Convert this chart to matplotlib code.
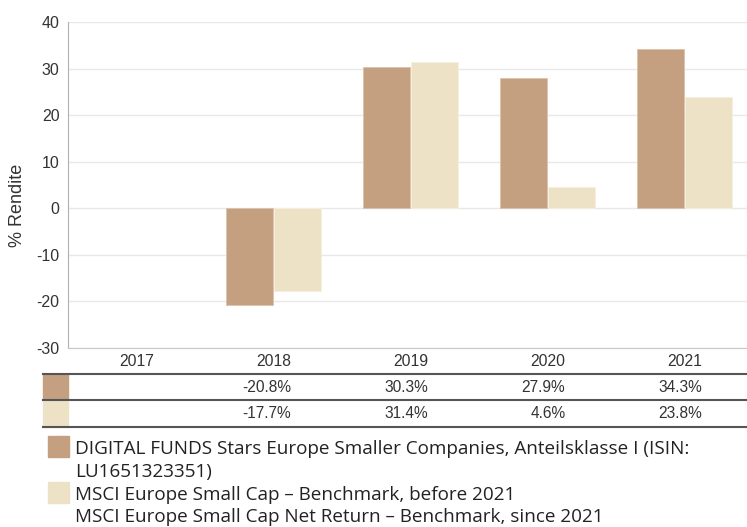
import matplotlib.pyplot as plt
from matplotlib.lines import Line2D
from matplotlib.patches import Rectangle
import matplotlib.transforms as mtransforms
import numpy as np

# ----- Data -----
years = ["2017", "2018", "2019", "2020", "2021"]
fund = [np.nan, -20.8, 30.3, 27.9, 34.3]
bench = [np.nan, -17.7, 31.4, 4.6, 23.8]
fund_lbl = ["", "-20.8%", "30.3%", "27.9%", "34.3%"]
bench_lbl = ["", "-17.7%", "31.4%", "4.6%", "23.8%"]
legend_fund = ["DIGITAL FUNDS Stars Europe Smaller Companies, Anteilsklasse I (ISIN:",
               "LU1651323351)"]
legend_bench = ["MSCI Europe Small Cap \u2013 Benchmark, before 2021",
                "MSCI Europe Small Cap Net Return \u2013 Benchmark, since 2021"]

c_fund = "#C4A080"
c_bench = "#EEE2C6"
txt_c = "#333333"

W, H = 747, 527
plt.rcParams['font.family'] = ['Liberation Sans', 'DejaVu Sans']
plt.rcParams['axes.unicode_minus'] = False
fig = plt.figure(figsize=(W / 100, H / 100), dpi=100)

# axes in pixel layout
left, right, top, bottom = 68, 753, 22, 348
ax = fig.add_axes([left / W, 1 - bottom / H, (right - left) / W, (bottom - top) / H])

x = np.arange(len(years))
bw = 0.343
ax.bar(x - bw / 2 - 0.005, fund, width=bw, color=c_fund, edgecolor='#dcc3ad',
       linewidth=0.6, zorder=3)
ax.bar(x + bw / 2 + 0.005, bench, width=bw, color=c_bench, edgecolor='#f6efe0',
       linewidth=0.6, zorder=3)

ax.set_xlim(-0.5, 4.5)
ax.set_ylim(-30, 40)
ax.set_yticks(np.arange(-30, 41, 10))
ax.set_xticks([])
ax.grid(axis='y', color='#e8e8e8', linewidth=1, zorder=0)
for s in ['top', 'right']:
    ax.spines[s].set_visible(False)
ax.spines['left'].set_color('#b0b0b0')
ax.spines['bottom'].set_color('#c8c8c8')
ax.tick_params(axis='y', length=0, pad=6, labelsize=11.5, labelcolor=txt_c)

def fy(py):
    return 1 - py / H

fig.text(18 / W, fy(205), "% Rendite", rotation=90, ha='center', va='center',
         fontsize=13, color=txt_c)

# ----- Table below the chart -----
trans = mtransforms.blended_transform_factory(ax.transData, fig.transFigure)

for i, y in enumerate(years):
    fig.text(x[i], fy(362), y, transform=trans, ha='center', va='center',
             fontsize=11.3, color=txt_c)
    fig.text(x[i] + 0.13, fy(387), fund_lbl[i], transform=trans, ha='right',
             va='center', fontsize=11.2, color=txt_c)
    fig.text(x[i] + 0.13, fy(413), bench_lbl[i], transform=trans, ha='right',
             va='center', fontsize=11.2, color=txt_c)

fig.patches.append(Rectangle((43 / W, fy(400)), 25 / W, 26 / H, transform=fig.transFigure,
                             color=c_fund, zorder=1))
fig.patches.append(Rectangle((43 / W, fy(427)), 25 / W, 26 / H, transform=fig.transFigure,
                             color=c_bench, zorder=1))
for py in [374, 400, 427]:
    fig.lines.append(Line2D([43 / W, 1], [fy(py), fy(py)], transform=fig.transFigure,
                            color='#555555', linewidth=1.5, zorder=2))

# ----- Legend -----
fig.patches.append(Rectangle((48 / W, fy(457)), 21 / W, 21 / H, transform=fig.transFigure,
                             color=c_fund))
fig.patches.append(Rectangle((48 / W, fy(503)), 21 / W, 21 / H, transform=fig.transFigure,
                             color=c_bench))
leg_font = ['Open Sans', 'DejaVu Sans']
for line, base in zip(legend_fund + legend_bench, [454, 477, 500, 522]):
    fig.text(75 / W, fy(base), line, ha='left', va='baseline', fontsize=13.6,
             color='#222222', family=leg_font)

fig.savefig("out.png", dpi=100)
